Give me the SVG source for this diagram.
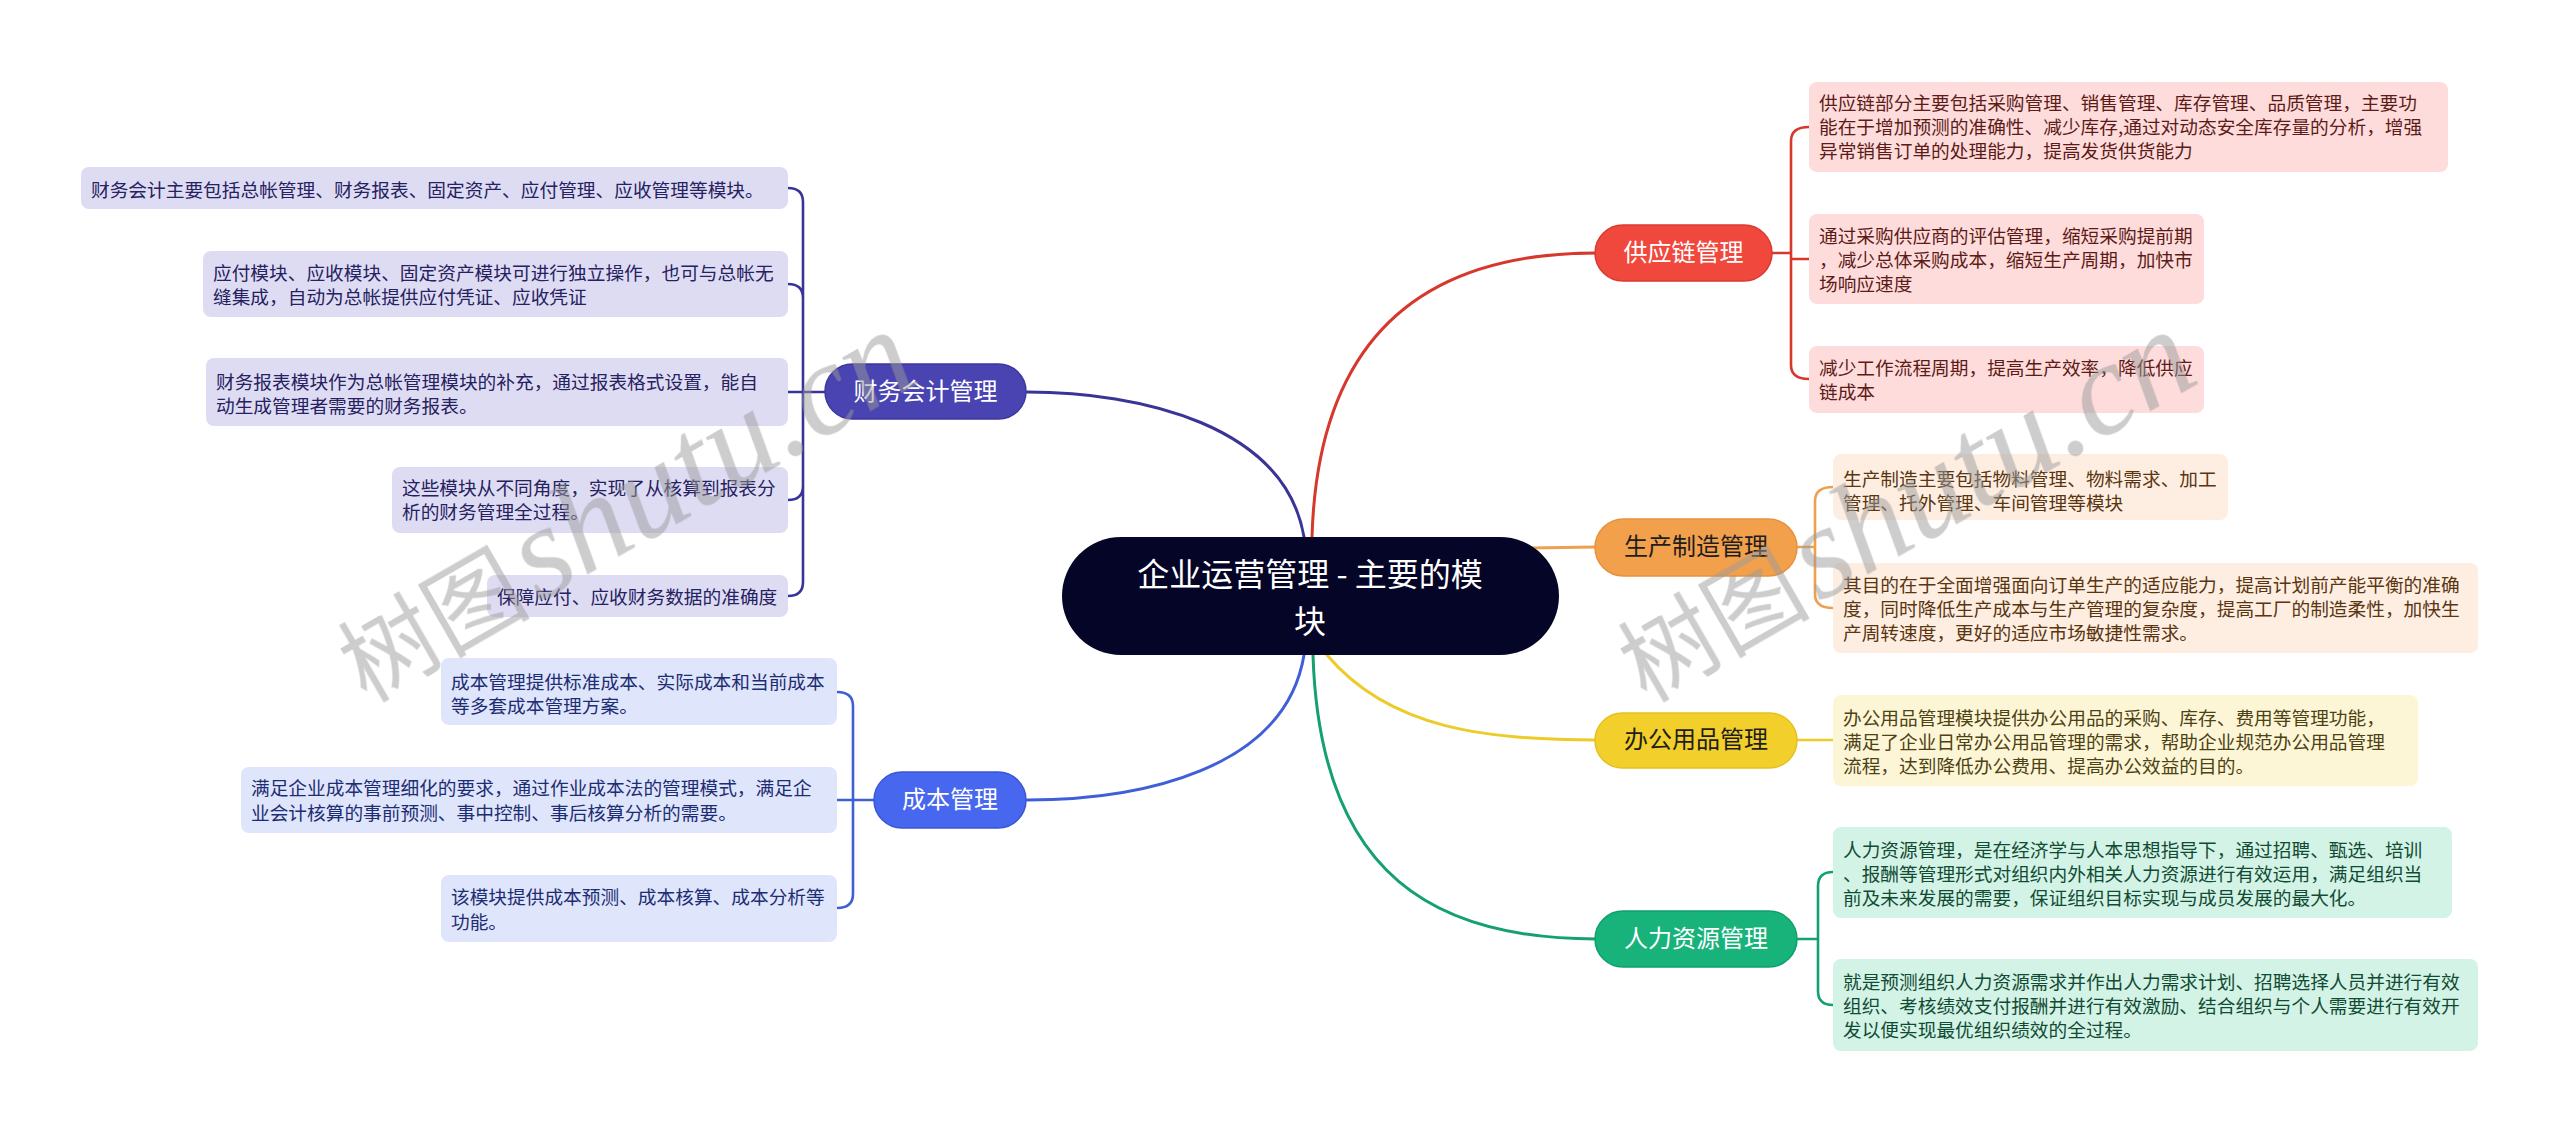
<svg xmlns="http://www.w3.org/2000/svg" width="2560" height="1132" viewBox="0 0 2560 1132">
<style>
text{font-family:"Noto Sans CJK SC","Noto Sans",sans-serif;}
.leaf{font-size:18.7px;}
.l1{font-size:24px;text-anchor:middle;}
.root{font-size:32px;text-anchor:middle;fill:#ffffff;}
.c{fill:none;stroke-linecap:round;stroke-linejoin:round;}
.main{stroke-width:3;}
.sub{stroke-width:2.6;}
.pu{stroke:#3b3497;} .bl{stroke:#3f5ed8;} .rd{stroke:#d6382e;} .or{stroke:#eea050;} .ye{stroke:#edcb2a;} .gr{stroke:#14a06f;}
.wm{fill:#9a9a9a;opacity:0.5;}
</style>
<rect x="0" y="0" width="2560" height="1132" fill="#ffffff"/>
<g id="connectors">
  <path class="c main pu" d="M1304,537 C1285,425 1140,392 1027,392"/>
  <path class="c main bl" d="M1304,655 C1285,770 1140,800 1027,800"/>
  <path class="c main rd" d="M1312,537 C1318,330 1430,253 1596,253"/>
  <path class="c main or" d="M1530,548 L1596,547"/>
  <path class="c main ye" d="M1327,655 C1390,730 1490,740 1596,740"/>
  <path class="c main gr" d="M1313,655 C1320,880 1440,939 1596,939"/>
  <path class="c sub pu" d="M825,392 H803 M803,392 V202 Q803,188 788,188 M803,392 V298 Q803,284 788,284 M803,392 H788 M803,392 V486 Q803,500 788,500 M803,392 V582 Q803,596 788,596"/>
  <path class="c sub bl" d="M874,800 H853 M853,800 V706 Q853,692 837,692 M853,800 H837 M853,800 V894 Q853,908 837,908"/>
  <path class="c sub rd" d="M1772,253 H1791 M1791,253 V141 Q1791,127 1809,127 M1791,253 V259 H1809 M1791,253 V365 Q1791,379 1809,379"/>
  <path class="c sub or" d="M1797,547 H1815 M1815,547 V501 Q1815,487 1833,487 M1815,547 V594 Q1815,608 1833,608"/>
  <path class="c sub ye" d="M1797,740 H1833"/>
  <path class="c sub gr" d="M1797,939 H1818 M1818,939 V886 Q1818,872 1833,872 M1818,939 V991 Q1818,1005 1833,1005"/>
</g>
<g id="root">
  <rect x="1062" y="537" width="497" height="118" rx="59" fill="#050527"/>
  <text class="root" x="1310" y="586">企业运营管理 - 主要的模</text>
  <text class="root" x="1310" y="633">块</text>
</g>
<g id="n-caiwu">
  <rect x="825" y="364" width="201" height="55" rx="27.5" fill="#4a44b3" stroke="#3d379f" stroke-width="1.5"/>
  <text class="l1" x="925.5" y="400" fill="#ffffff">财务会计管理</text>
</g>
<g id="n-chengben">
  <rect x="874" y="772" width="152" height="56" rx="28" fill="#4767ee" stroke="#3a57d2" stroke-width="1.5"/>
  <text class="l1" x="950" y="808" fill="#ffffff">成本管理</text>
</g>
<g id="n-gongying">
  <rect x="1595" y="225" width="177" height="56" rx="28" fill="#f1483d" stroke="#d93a30" stroke-width="1.5"/>
  <text class="l1" x="1683.5" y="261" fill="#ffffff">供应链管理</text>
</g>
<g id="n-shengchan">
  <rect x="1595" y="519" width="202" height="57" rx="28.5" fill="#f3a04c" stroke="#e6923f" stroke-width="1.5"/>
  <text class="l1" x="1696" y="555" fill="#1e1e1e">生产制造管理</text>
</g>
<g id="n-bangong">
  <rect x="1595" y="713" width="202" height="55" rx="27.5" fill="#f2cf2a" stroke="#e4c11f" stroke-width="1.5"/>
  <text class="l1" x="1696" y="748" fill="#1e1e1e">办公用品管理</text>
</g>
<g id="n-renli">
  <rect x="1595" y="911" width="202" height="56" rx="28" fill="#18b27b" stroke="#10a06d" stroke-width="1.5"/>
  <text class="l1" x="1696" y="947" fill="#ffffff">人力资源管理</text>
</g>
<g id="leaf-cw1">
  <rect x="81" y="167" width="707" height="42" rx="8" fill="#dedcf3"/>
  <text class="leaf" x="91" y="197" fill="#26215f">财务会计主要包括总帐管理、财务报表、固定资产、应付管理、应收管理等模块。</text>
</g>
<g id="leaf-cw2">
  <rect x="203" y="251" width="585" height="66" rx="8" fill="#dedcf3"/>
  <text class="leaf" x="213" y="280" fill="#26215f">应付模块、应收模块、固定资产模块可进行独立操作，也可与总帐无</text>
  <text class="leaf" x="213" y="304" fill="#26215f">缝集成，自动为总帐提供应付凭证、应收凭证</text>
</g>
<g id="leaf-cw3">
  <rect x="206" y="358" width="582" height="68" rx="8" fill="#dedcf3"/>
  <text class="leaf" x="216" y="389" fill="#26215f">财务报表模块作为总帐管理模块的补充，通过报表格式设置，能自</text>
  <text class="leaf" x="216" y="413" fill="#26215f">动生成管理者需要的财务报表。</text>
</g>
<g id="leaf-cw4">
  <rect x="392" y="467" width="396" height="66" rx="8" fill="#dedcf3"/>
  <text class="leaf" x="402" y="495" fill="#26215f">这些模块从不同角度，实现了从核算到报表分</text>
  <text class="leaf" x="402" y="519" fill="#26215f">析的财务管理全过程。</text>
</g>
<g id="leaf-cw5">
  <rect x="487" y="575" width="301" height="42" rx="8" fill="#dedcf3"/>
  <text class="leaf" x="497" y="604" fill="#26215f">保障应付、应收财务数据的准确度</text>
</g>
<g id="leaf-cb1">
  <rect x="441" y="658" width="396" height="67" rx="8" fill="#dfe5fb"/>
  <text class="leaf" x="451" y="689" fill="#1d2d73">成本管理提供标准成本、实际成本和当前成本</text>
  <text class="leaf" x="451" y="713" fill="#1d2d73">等多套成本管理方案。</text>
</g>
<g id="leaf-cb2">
  <rect x="241" y="767" width="596" height="66" rx="8" fill="#dfe5fb"/>
  <text class="leaf" x="251" y="795" fill="#1d2d73">满足企业成本管理细化的要求，通过作业成本法的管理模式，满足企</text>
  <text class="leaf" x="251" y="820" fill="#1d2d73">业会计核算的事前预测、事中控制、事后核算分析的需要。</text>
</g>
<g id="leaf-cb3">
  <rect x="441" y="875" width="396" height="67" rx="8" fill="#dfe5fb"/>
  <text class="leaf" x="451" y="904" fill="#1d2d73">该模块提供成本预测、成本核算、成本分析等</text>
  <text class="leaf" x="451" y="929" fill="#1d2d73">功能。</text>
</g>
<g id="leaf-gy1">
  <rect x="1809" y="82" width="639" height="90" rx="8" fill="#fedcdc"/>
  <text class="leaf" x="1819" y="110" fill="#5c1b17">供应链部分主要包括采购管理、销售管理、库存管理、品质管理，主要功</text>
  <text class="leaf" x="1819" y="134" fill="#5c1b17">能在于增加预测的准确性、减少库存,通过对动态安全库存量的分析，增强</text>
  <text class="leaf" x="1819" y="158" fill="#5c1b17">异常销售订单的处理能力，提高发货供货能力</text>
</g>
<g id="leaf-gy2">
  <rect x="1809" y="214" width="395" height="90" rx="8" fill="#fedcdc"/>
  <text class="leaf" x="1819" y="243" fill="#5c1b17">通过采购供应商的评估管理，缩短采购提前期</text>
  <text class="leaf" x="1819" y="267" fill="#5c1b17">，减少总体采购成本，缩短生产周期，加快市</text>
  <text class="leaf" x="1819" y="291" fill="#5c1b17">场响应速度</text>
</g>
<g id="leaf-gy3">
  <rect x="1809" y="346" width="395" height="67" rx="8" fill="#fedcdc"/>
  <text class="leaf" x="1819" y="375" fill="#5c1b17">减少工作流程周期，提高生产效率，降低供应</text>
  <text class="leaf" x="1819" y="399" fill="#5c1b17">链成本</text>
</g>
<g id="leaf-sc1">
  <rect x="1833" y="454" width="395" height="66" rx="8" fill="#fdeee1"/>
  <text class="leaf" x="1843" y="486" fill="#5a3511">生产制造主要包括物料管理、物料需求、加工</text>
  <text class="leaf" x="1843" y="510" fill="#5a3511">管理、托外管理、车间管理等模块</text>
</g>
<g id="leaf-sc2">
  <rect x="1833" y="563" width="645" height="90" rx="8" fill="#fdeee1"/>
  <text class="leaf" x="1843" y="592" fill="#5a3511">其目的在于全面增强面向订单生产的适应能力，提高计划前产能平衡的准确</text>
  <text class="leaf" x="1843" y="616" fill="#5a3511">度，同时降低生产成本与生产管理的复杂度，提高工厂的制造柔性，加快生</text>
  <text class="leaf" x="1843" y="640" fill="#5a3511">产周转速度，更好的适应市场敏捷性需求。</text>
</g>
<g id="leaf-bg1">
  <rect x="1833" y="695" width="585" height="91" rx="8" fill="#fdf6d6"/>
  <text class="leaf" x="1843" y="725" fill="#4d4214">办公用品管理模块提供办公用品的采购、库存、费用等管理功能，</text>
  <text class="leaf" x="1843" y="749" fill="#4d4214">满足了企业日常办公用品管理的需求，帮助企业规范办公用品管理</text>
  <text class="leaf" x="1843" y="773" fill="#4d4214">流程，达到降低办公费用、提高办公效益的目的。</text>
</g>
<g id="leaf-rl1">
  <rect x="1833" y="827" width="619" height="91" rx="8" fill="#d3f3e6"/>
  <text class="leaf" x="1843" y="857" fill="#124b34">人力资源管理，是在经济学与人本思想指导下，通过招聘、甄选、培训</text>
  <text class="leaf" x="1843" y="881" fill="#124b34">、报酬等管理形式对组织内外相关人力资源进行有效运用，满足组织当</text>
  <text class="leaf" x="1843" y="905" fill="#124b34">前及未来发展的需要，保证组织目标实现与成员发展的最大化。</text>
</g>
<g id="leaf-rl2">
  <rect x="1833" y="959" width="645" height="92" rx="8" fill="#d3f3e6"/>
  <text class="leaf" x="1843" y="989" fill="#124b34">就是预测组织人力资源需求并作出人力需求计划、招聘选择人员并进行有效</text>
  <text class="leaf" x="1843" y="1013" fill="#124b34">组织、考核绩效支付报酬并进行有效激励、结合组织与个人需要进行有效开</text>
  <text class="leaf" x="1843" y="1037" fill="#124b34">发以便实现最优组织绩效的全过程。</text>
</g>
<g id="watermarks" class="wm">
  <g transform="translate(366,703) rotate(-30)">
    <text x="0" y="0" style="font-size:96px;font-family:'Noto Sans CJK SC',sans-serif;">树图</text>
    <text x="200" y="0" style="font-size:132px;font-family:'Liberation Serif',serif;font-style:italic;">shutu.cn</text>
  </g>
  <g transform="translate(1646,703) rotate(-30)">
    <text x="0" y="0" style="font-size:96px;font-family:'Noto Sans CJK SC',sans-serif;">树图</text>
    <text x="200" y="0" style="font-size:132px;font-family:'Liberation Serif',serif;font-style:italic;">shutu.cn</text>
  </g>
</g>
</svg>
